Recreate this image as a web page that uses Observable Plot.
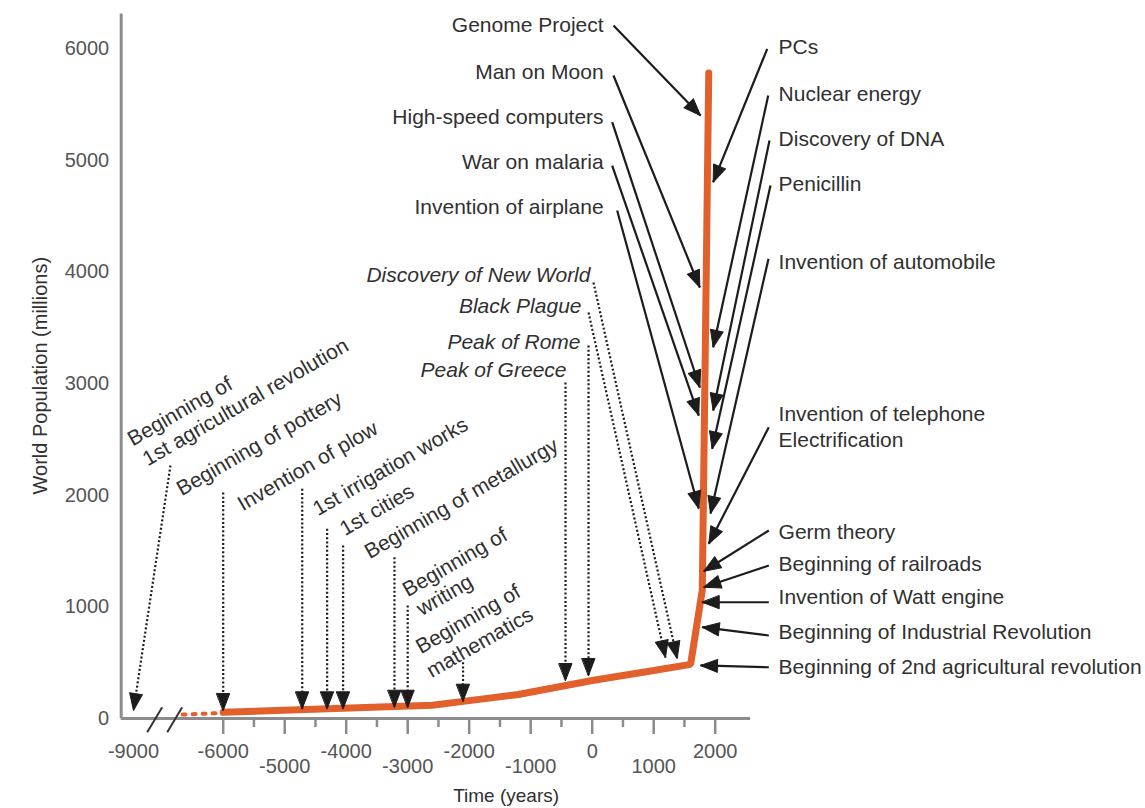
<!DOCTYPE html>
<html><head><meta charset="utf-8">
<script src="https://cdn.jsdelivr.net/npm/d3@7"></script>
<script src="https://cdn.jsdelivr.net/npm/@observablehq/plot@0.6"></script>
<style>body{margin:0;background:#fff;}</style>
</head><body><div id="chart"></div>
<script>
// ---------- data ----------
const popYears  = [-6000, -2600, -2000, -1200, 0, 1000, 1600, 1790, 1895];
const popValues = [55, 118, 160, 215, 340, 430, 485, 1150, 5780];
const earlyYears  = [-6660, -6000];
const earlyValues = [35, 50];

const yTickValues = [0, 1000, 2000, 3000, 4000, 5000, 6000];
const xTickLabels = [-9000, -6000, -5000, -4000, -3000, -2000, -1000, 0, 1000, 2000];
const xMajorTicks = [-6000, -5000, -4000, -3000, -2000, -1000, 0, 1000, 2000];
const xMinorTicks = [-5500, -4500, -3500, -2500, -1500, -500, 500, 1500];
const breakX1 = [-8324, -7338];
const breakX2 = [-7585, -6667];
const breakY1 = [-123, -123];
const breakY2 = [101, 101];

// right-hand events (solid arrows)
const rightLabels = ["PCs", "Nuclear energy", "Discovery of DNA", "Penicillin", "Invention of automobile",
  "Invention of telephone\nElectrification", "Germ theory", "Beginning of railroads",
  "Invention of Watt engine", "Beginning of Industrial Revolution", "Beginning of 2nd agricultural revolution"];
const rightLabelYear = 3030;
const rightLabelPop  = [6027, 5609, 5206, 4803, 4101, 2624, 1684, 1400, 1101, 788, 475];
const rightFromYear = [2846, 2862, 2883, 2899, 2867, 2872, 2872, 2872, 2872, 2872, 2872];
const rightFromPop  = [5997, 5579, 5176, 4773, 4118, 2609, 1684, 1370, 1041, 743, 459];
const rightToYear   = [1967, 1967, 1967, 1951, 1924, 1896, 1815, 1815, 1789, 1789, 1761];
const rightToPop    = [4803, 3325, 2758, 2415, 1836, 1564, 1319, 1176, 1041, 818, 475];

// left-hand events (solid arrows)
const leftLabels = ["Genome Project", "Man on Moon", "High-speed computers", "War on malaria", "Invention of airplane"];
const leftLabelYear = 185;
const leftLabelPop  = [6206, 5785, 5382, 4979, 4576];
const leftFromYear = [346, 346, 325, 325, 406];
const leftFromPop  = [6206, 5758, 5340, 4952, 4549];
const leftToYear   = [1761, 1750, 1750, 1733, 1733];
const leftToPop    = [5400, 3860, 2964, 2713, 1881];

// italic events (dotted arrows)
const italicLabels = ["Discovery of New World", "Black Plague", "Peak of Rome", "Peak of Greece"];
const italicLabelYear = [-28, -174, -190, -418];
const italicLabelPop  = [3967, 3689, 3367, 3116];
const italicFromYear = [21, -60, -60, -434];
const italicFromPop  = [3904, 3636, 3340, 3009];
const italicToYear   = [1382, 1192, -60, -434];
const italicToPop    = [537, 546, 385, 340];

// ancient events (rotated labels, dotted arrows)
const ancientFromYear = [-7176, -6000, -4715, -4310, -4050, -3215, -3000, -2100];
const ancientFromPop  = [2266, 2024, 2057, 1699, 1549, 1444, 1012, 504];
const ancientToYear   = [-9000, -6000, -4715, -4310, -4050, -3215, -3000, -2100];
const ancientToPop    = [72, 72, 87, 87, 87, 101, 101, 155];
const ancientLabels = ["Beginning of", "1st agricultural revolution", "Beginning of pottery", "Invention of plow",
  "1st irrigation works", "1st cities", "Beginning of metallurgy", "Beginning of", "writing", "Beginning of", "mathematics"];
const ancientLabelYear = [-9065, -8458, -6781, -5735, -4515, -4076, -3670, -3052, -2825, -2838, -2662];
const ancientLabelPop  = [2489, 2310, 2042, 1907, 1863, 1684, 1478, 1137, 967, 627, 412];

// ---------- scales ----------
const xDomain = [-9200, -9000, -6700, 2000];
const xRange  = [120.7, 133, 179.65, 714.7];
const yDomain = [0, 6300];
const yRange  = [718, 14.5];
const xs = Plot.scale({x: {type: "linear", domain: xDomain, range: xRange}});
const ys = Plot.scale({y: {type: "linear", domain: yDomain, range: yRange}});

const FONT = "'Liberation Sans', Arial, sans-serif";
const FS = 21;
const INK = "#1c1c1c";
const TXT = "#303030";
const AXIS = "#8c8c8c";

function arrows(fy, fp, ty, tp) {
  return fy.map((d, i) => {
    const x1 = xs.apply(d), y1 = ys.apply(fp[i]), x2 = xs.apply(ty[i]), y2 = ys.apply(tp[i]);
    return {x1: d, y1: fp[i], x2: ty[i], y2: tp[i],
      angle: Math.atan2(x2 - x1, -(y2 - y1)) * 180 / Math.PI};
  });
}
const solid = arrows(rightFromYear, rightFromPop, rightToYear, rightToPop)
  .concat(arrows(leftFromYear, leftFromPop, leftToYear, leftToPop));
const dotted = arrows(italicFromYear, italicFromPop, italicToYear, italicToPop)
  .concat(arrows(ancientFromYear, ancientFromPop, ancientToYear, ancientToPop));

const triHead = {draw(ctx, l, r) { ctx.moveTo(0, -l); ctx.lineTo(-r, 0); ctx.lineTo(r, 0); ctx.closePath(); }};

const pop = popYears.map((y, i) => ({year: y, pop: popValues[i]}));
const early = earlyYears.map((y, i) => ({year: y, pop: earlyValues[i]}));

const tickEnd = (px) => ys.invert(ys.apply(0) + px);
const isHi = d => d === -9000 || Math.abs(d / 1000) % 2 === 0;
const labelHi = xTickLabels.filter(isHi);
const labelLo = xTickLabels.filter(d => !isHi(d));

const headOpts = {length: 17, r: 6.5, anchor: "end", shape: triHead, fill: INK, stroke: INK, strokeWidth: 1};
const tickText = {fill: "#555", fontSize: 20, fontFamily: FONT, text: d => String(d)};

const chart = Plot.plot({
  width: 1145, height: 808,
  marginLeft: 0, marginRight: 0, marginTop: 0, marginBottom: 0,
  x: {type: "linear", domain: xDomain, range: xRange, axis: null},
  y: {type: "linear", domain: yDomain, range: yRange, axis: null},
  marks: [
    // axes
    Plot.ruleX([xDomain[0]], {y1: 0, y2: 6310, stroke: AXIS, strokeWidth: 3}),
    Plot.ruleY([0], {x1: xDomain[0], x2: 2575, stroke: AXIS, strokeWidth: 3}),
    Plot.ruleX(xMajorTicks, {y1: 0, y2: tickEnd(16), stroke: AXIS, strokeWidth: 2.5}),
    Plot.ruleX(xMinorTicks, {y1: 0, y2: tickEnd(9), stroke: AXIS, strokeWidth: 2.5}),
    Plot.link(breakX1, {x1: d => d, x2: (d, i) => breakX2[i], y1: (d, i) => breakY1[i], y2: (d, i) => breakY2[i], stroke: "#333", strokeWidth: 2}),
    Plot.text(yTickValues, {x: xDomain[0], y: d => d, dx: -12, textAnchor: "end", ...tickText}),
    Plot.text(labelHi, {x: d => d, y: 0, dy: 33, ...tickText}),
    Plot.text(labelLo, {x: d => d, y: 0, dy: 48, ...tickText}),
    Plot.text(["Time (years)"], {x: -1400, y: 0, dy: 77, fill: TXT, fontSize: 19, fontFamily: FONT}),
    Plot.text(["World Population (millions)"], {frameAnchor: "left", y: 3070, dx: 40, rotate: -90, textAnchor: "middle", fill: TXT, fontSize: 20, fontFamily: FONT}),
    // population line
    Plot.line(early, {x: "year", y: "pop", stroke: "#e2602b", strokeWidth: 4, strokeDasharray: "3,7"}),
    Plot.line(pop, {x: "year", y: "pop", stroke: "#e2602b", strokeWidth: 7, strokeLinejoin: "miter"}),
    // arrows
    Plot.link(solid, {x1: "x1", y1: "y1", x2: "x2", y2: "y2", stroke: INK, strokeWidth: 2.2}),
    Plot.link(dotted, {x1: "x1", y1: "y1", x2: "x2", y2: "y2", stroke: INK, strokeWidth: 2.2, strokeDasharray: "2,2.2"}),
    Plot.vector(solid, {x: "x2", y: "y2", rotate: "angle", ...headOpts}),
    Plot.vector(dotted, {x: "x2", y: "y2", rotate: "angle", ...headOpts}),
    // labels
    Plot.text(rightLabels, {x: rightLabelYear, y: (d, i) => rightLabelPop[i], textAnchor: "start", lineHeight: 1.25, fill: TXT, fontSize: FS, fontFamily: FONT}),
    Plot.text(leftLabels, {x: leftLabelYear, y: (d, i) => leftLabelPop[i], textAnchor: "end", fill: TXT, fontSize: FS, fontFamily: FONT}),
    Plot.text(italicLabels, {x: (d, i) => italicLabelYear[i], y: (d, i) => italicLabelPop[i], textAnchor: "end", fontStyle: "italic", fill: TXT, fontSize: FS, fontFamily: FONT}),
    Plot.text(ancientLabels, {x: (d, i) => ancientLabelYear[i], y: (d, i) => ancientLabelPop[i], textAnchor: "start", rotate: -30, fill: TXT, fontSize: FS, fontFamily: FONT})
  ]
});
document.getElementById("chart").appendChild(chart);
</script>
</body></html>
